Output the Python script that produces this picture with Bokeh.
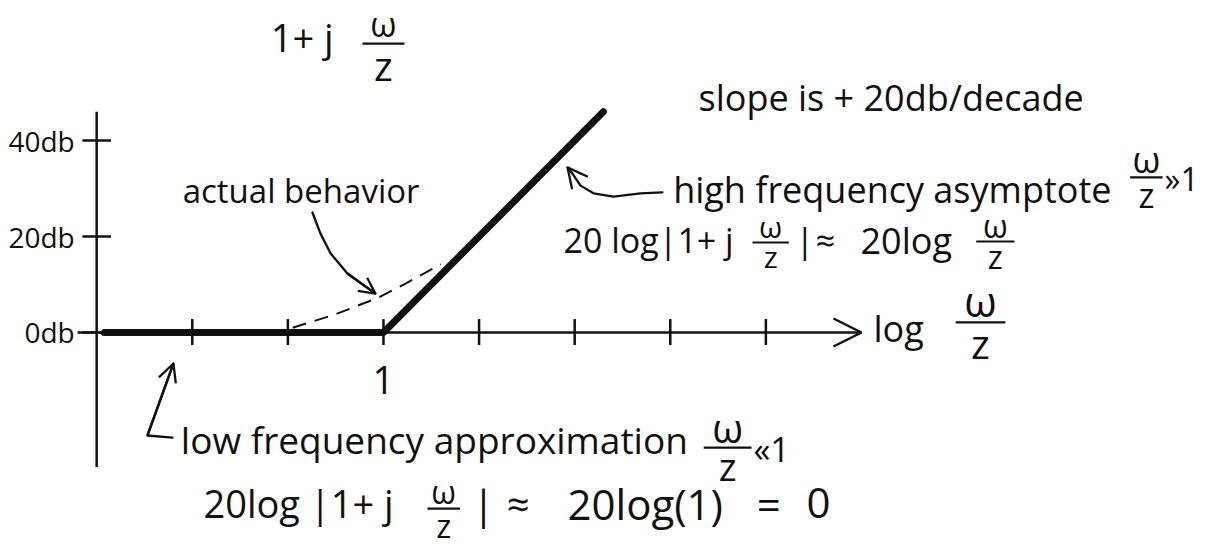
from bokeh.plotting import figure
from bokeh.models import Arrow, OpenHead
from bokeh.core.properties import value
from bokeh.embed import file_html
from bokeh.resources import INLINE

# Bode magnitude sketch of a single zero, 1 + j(w/z)
# x: log10(w/z) in decades, y: magnitude in dB
decade_ticks = [-2, -1, 0, 1, 2, 3, 4]
decade_labels = ["", "", "1", "", "", "", ""]
db_ticks = [0, 20, 40]
db_labels = ["0db", "20db", "40db"]

# straight-line approximation: flat at 0 dB, then +20 dB/decade
asym_logw = [-2.92, 0.0, 2.3]
asym_db = [0.0, 0.0, 46.0]

# actual response bending away from the corner
actual_logw = [-0.95, -0.5, -0.05, 0.25, 0.6]
actual_db = [1.0, 3.8, 7.3, 10.4, 14.2]

INK = "#111111"
FONT = "Open Sans"
MID_TO_BASE = 0.39  # distance from a "middle" anchor down to the baseline, in em

p = figure(width=1219, height=550, x_range=(-4.006, 8.745), y_range=(-45.42, 69.17),
           x_axis_location=None, y_axis_location=None, toolbar_location=None,
           output_backend="svg", min_border=0)
p.outline_line_color = None
p.background_fill_color = "white"
p.border_fill_color = "white"
p.xgrid.visible = False
p.ygrid.visible = False


def label(x, y, s, size, align="left", dy=0):
    p.text(x=[x], y=[y], text=[s], text_font=value(FONT), text_font_size=f"{size}px",
           text_align=align, text_baseline="middle", text_color=INK, y_offset=dy)


def frac(xc, ybar, half, w_size, z_size, gap, down):
    """w over z with a short fraction bar; gap is the space between w and the bar."""
    p.line([xc - half, xc + half], [ybar, ybar], line_width=2.2, color=INK)
    label(xc, ybar, "ω", w_size, align="center", dy=-(gap + MID_TO_BASE * w_size))
    label(xc, ybar, "z", z_size, align="center", dy=down)


def curve_arrow(xs, ys, head):
    p.line(xs, ys, line_width=2.3, color=INK, line_cap="round", line_join="round")
    p.add_layout(Arrow(x_start=xs[-2], y_start=ys[-2], x_end=xs[-1], y_end=ys[-1],
                       line_width=2.3, line_color=INK,
                       end=OpenHead(size=head, line_width=2.3, line_color=INK)))


# axes, drawn by hand
p.line([-3, -3], [-28, 46], line_width=2.5, color=INK)
p.add_layout(Arrow(x_start=-3.2, y_start=0, x_end=5.0, y_end=0, line_width=2.5, line_color=INK,
                   end=OpenHead(size=28, line_width=2.5, line_color=INK)))
p.segment(x0=decade_ticks, y0=[2.8] * len(decade_ticks), x1=decade_ticks,
          y1=[-2.6] * len(decade_ticks), line_width=2.5, color=INK)
p.segment(x0=[-3.15] * len(db_ticks), y0=db_ticks, x1=[-2.85] * len(db_ticks), y1=db_ticks,
          line_width=2.5, color=INK)
p.text(x=[-3.23] * len(db_ticks), y=db_ticks, text=db_labels, text_font=value(FONT),
       text_font_size="28px", text_align="right", text_baseline="middle", text_color=INK)
p.text(x=decade_ticks, y=[-10] * len(decade_ticks), text=decade_labels, text_font=value(FONT),
       text_font_size="38px", text_align="center", text_baseline="middle", text_color=INK)

# responses
p.line(actual_logw, actual_db, line_width=2, color=INK, line_dash="14 9")
p.line(asym_logw, asym_db, line_width=7, color=INK, line_cap="round", line_join="round")

# title expression
label(-1.18, 61.5, "1+ j", 38)
frac(0.0, 60.2, 0.22, 34, 40, 6, 22)

label(3.295, 49.0, "slope is + 20db/decade", 36)

# actual behaviour callout
label(-2.10, 29.6, "actual behavior", 33)
curve_arrow([-0.743, -0.659, -0.554, -0.377, -0.084], [25.0, 20.6, 16.5, 12.3, 8.1], 16)

# high frequency callout
label(3.03, 29.8, "high frequency asymptote", 36)
frac(7.98, 32.3, 0.17, 36, 34, 4, 18)
label(8.17, 32.1, "»1", 32)
curve_arrow([2.918, 2.688, 2.406, 2.197, 2.061, 1.977, 1.925],
            [29.2, 29.0, 28.3, 29.0, 30.6, 33.1, 34.4], 20)

label(1.883, 19.2, "20 log|1+ j", 34)
frac(4.05, 18.75, 0.19, 30, 30, 4, 14)
label(4.31, 19.2, "|", 34)
label(4.62, 19.2, "≈", 34, align="center")
label(4.99, 19.2, "20log", 36)
frac(6.40, 18.96, 0.2, 32, 32, 4, 15)

# axis name
label(5.125, 0.8, "log", 36)
frac(6.245, 2.1, 0.26, 42, 40, 6, 21)

# low frequency callout
curve_arrow([-2.207, -2.469, -2.197], [-21.9, -21.46, -6.46], 18)
label(-2.12, -22.3, "low frequency approximation", 37)
frac(3.60, -24.0, 0.25, 40, 38, 5, 18)
label(3.87, -24.2, "«1", 34)

label(-1.883, -35.6, "20log |1+ j", 38)
frac(0.63, -36.7, 0.17, 32, 32, 5, 17)
label(0.93, -35.6, "|", 40)
label(1.41, -35.6, "≈", 40, align="center")
label(1.925, -35.6, "20log(1)", 42)
label(4.03, -35.6, "=", 42, align="center")
label(4.55, -35.6, "0", 42, align="center")

open("out.html", "w").write(file_html(p, INLINE))
